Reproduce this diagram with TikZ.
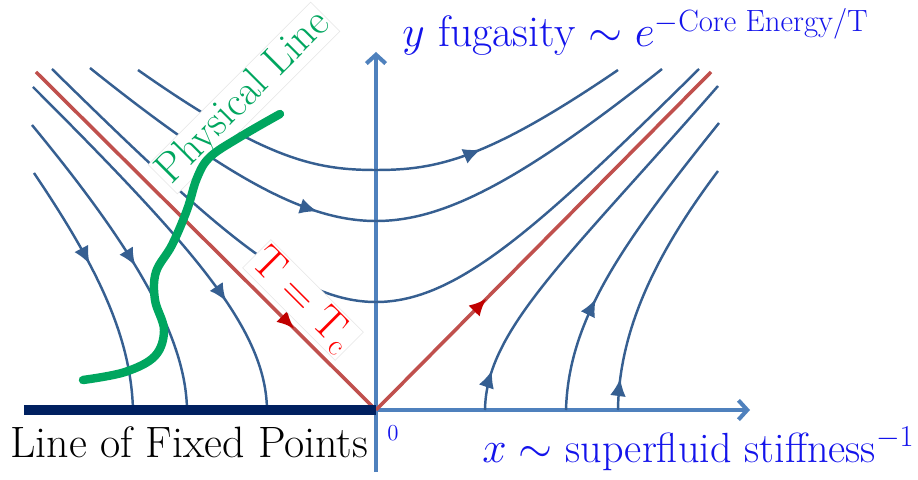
\documentclass[tikz,border=0pt]{standalone}
\usepackage{amsmath,amssymb}
\usepackage{xcolor}
\usepackage{tikz}
\usetikzlibrary{arrows.meta,decorations.markings}

\definecolor{axisblue}{RGB}{79,129,189}
\definecolor{flowblue}{RGB}{54,95,145}
\definecolor{sepred}{RGB}{192,80,77}
\definecolor{arrowred}{RGB}{192,0,0}
\definecolor{labelblue}{RGB}{20,20,235}
\definecolor{physgreen}{RGB}{0,166,95}
\definecolor{fixednavy}{RGB}{0,32,96}

\begin{document}
\begin{tikzpicture}[
    flow/.style={flowblue,line width=1.4pt},
    sep/.style={sepred,line width=2pt},
    axisline/.style={axisblue,line width=2.3pt,-{Straight Barb[length=5pt,width=11pt]}},
    arrowat/.style={postaction={decorate},decoration={markings,mark=at position #1 with {\arrow{Latex[length=10pt,width=9pt]}}}},
    redat/.style={postaction={decorate},decoration={markings,mark=at position #1 with {\arrow[arrowred]{Latex[length=10pt,width=9pt]}}}},
    tag/.style={fill=white,draw=black!10,line width=0.3pt,inner sep=1pt},
    big/.style={font=\fontsize{25}{29}\selectfont}
]
    \useasboundingbox (-7.52,-1.38) rectangle (10.84,8.2);
    \coordinate (O) at (0,0);
    \coordinate (ybot) at (0,-1.24);
    \coordinate (ytip) at (0,7.16);
    \coordinate (xtip) at (7.48,0);
    \coordinate (fixend) at (-7.04,0);
    \coordinate (sepl) at (-6.8,6.76);
    \coordinate (sepr) at (6.7,6.76);

    \draw[axisline] (ybot) -- (ytip);
    \draw[axisline] (O) -- (xtip);

    \draw[flow,arrowat=0.71] (-6.86,6.46) .. controls (-3.6,3.2) and (-2.2,1.6) .. (-2.18,0);
    \draw[flow,arrowat=0.53] (-6.88,5.7) .. controls (-4.9,3.3) and (-3.8,1.5) .. (-3.78,0);
    \draw[flow,arrowat=0.41] (-6.84,4.74) .. controls (-5.6,2.9) and (-4.9,1.5) .. (-4.86,0);

    \draw[flow,arrowat=0.70] (-4.76,6.8) .. controls (-2.2,5.0) and (-1.2,4.8) .. (0,4.8)
        .. controls (1.2,4.8) and (2.2,5.0) .. (4.84,6.8);
    \draw[flow,arrowat=0.41] (-5.72,6.84) .. controls (-2.8,4.5) and (-1.3,3.78) .. (0,3.78)
        .. controls (1.3,3.78) and (2.8,4.5) .. (5.72,6.82);
    \draw[flow] (-6.48,6.82) .. controls (-3.2,3.6) and (-1.6,2.16) .. (0,2.16)
        .. controls (1.6,2.16) and (3.2,3.6) .. (6.46,6.82);

    \draw[flow,arrowat=0.1] (2.18,0) .. controls (2.2,1.6) and (3.8,3.0) .. (6.84,6.48);
    \draw[flow,arrowat=0.35] (3.8,0) .. controls (3.85,1.8) and (4.9,3.3) .. (6.86,5.74);
    \draw[flow,arrowat=0.12] (4.84,0) .. controls (4.86,1.5) and (5.5,3.0) .. (6.84,4.78);

    \draw[sep,redat=0.76] (sepl) -- (O);
    \draw[sep,redat=0.33] (O) -- (sepr);

    \node[tag,font=\fontsize{24}{28}\selectfont,text=physgreen,rotate=45] (phys) at (-2.64,6.24) {Physical Line};
    \node[tag,font=\fontsize{24}{28}\selectfont,text=red,rotate=-45] (tc) at (-1.46,2.2) {$\mathrm{T}=\mathrm{T_c}$};

    \draw[fixednavy,line width=5.7pt] (fixend) -- (O);

    \draw[physgreen,line width=4.8pt,line cap=round] plot[smooth,tension=0.6] coordinates {
        (-1.92,5.92) (-2.72,5.46) (-3.32,5.06) (-3.58,4.64) (-3.78,4.0) (-4.08,3.3)
        (-4.4,2.76) (-4.42,2.2) (-4.24,1.6) (-4.42,1.08) (-5.02,0.76) (-5.86,0.6)};

    \node[big,text=labelblue,anchor=base west,inner sep=0] (ylab) at (0.52,7.26) {$y$ fugasity $\sim e^{-\text{Core Energy/T}}$};
    \node[text=labelblue,font=\fontsize{24}{28}\selectfont,anchor=base west,inner sep=0] (xlab) at (2.12,-1.04) {$x\sim$ superfluid stiffness$^{-1}$};
    \node[text=labelblue,font=\fontsize{13}{15}\selectfont] (zero) at (0.34,-0.46) {0};
    \node[big,anchor=base west,inner sep=0] (fixlab) at (-7.32,-0.94) {Line of Fixed Points};
\end{tikzpicture}
\end{document}
